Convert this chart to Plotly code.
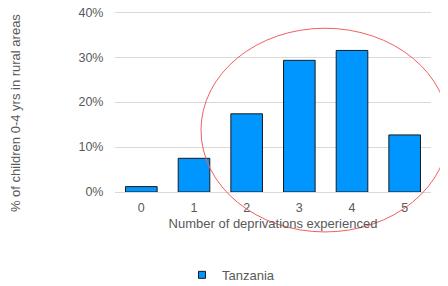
import plotly.graph_objects as go

categories = ["0", "1", "2", "3", "4", "5"]
values = [1.2, 7.5, 17.4, 29.3, 31.5, 12.7]
series_name = "Tanzania"
y_ticks = [0, 10, 20, 30, 40]
y_tick_labels = ["0%", "10%", "20%", "30%", "40%"]
y_range = [0, 40.5]

# page body has an 8px margin; work in window pixels and convert
OFF = 8
W, H = 448 - OFF, 286 - OFF
L, R, B = 115 - OFF, 17, 94
T = 12 - OFF - 0.5 * 4.5
pw = W - L - R
ph = H - T - B

def px_x(p):
    return (p - OFF - L) / pw

def px_y(p):
    return (H - B - (p - OFF)) / ph

fig = go.Figure()
fig.add_trace(go.Bar(
    x=categories, y=values, name=series_name,
    marker=dict(color="#0096FF", line=dict(color="#1a1a1a", width=1)),
    showlegend=False,
))
fig.add_trace(go.Scatter(
    x=[None], y=[None], mode="markers", name=series_name,
    marker=dict(symbol="square", size=7, color="#0096FF", line=dict(color="#1a1a1a", width=1)),
    showlegend=True,
))

fig.update_layout(
    width=W, height=H,
    margin=dict(l=L, r=R, t=T, b=B, autoexpand=False),
    paper_bgcolor="white", plot_bgcolor="white",
    font=dict(family="Liberation Sans, Arial, sans-serif", size=13, color="#595959"),
    bargap=0.4,
    showlegend=True,
    legend=dict(orientation="h", x=px_x(182), xanchor="left", y=px_y(275), yanchor="middle",
                font=dict(size=13, color="#595959"), itemwidth=30,
                bgcolor="rgba(0,0,0,0)"),
    xaxis=dict(
        type="category", showgrid=False, zeroline=False, showline=False,
        ticks="outside", ticklen=4, tickcolor="rgba(0,0,0,0)",
        tickfont=dict(size=12.5, color="#595959"),
        title=dict(text="Number of deprivations experienced", font=dict(size=13, color="#595959"), standoff=4),
        automargin=False,
    ),
    yaxis=dict(
        range=y_range, tickvals=y_ticks, ticktext=y_tick_labels,
        showgrid=True, gridcolor="#d9d9d9", gridwidth=1,
        zeroline=True, zerolinecolor="#d9d9d9", zerolinewidth=1,
        showline=False, ticks="outside", ticklen=8, tickcolor="rgba(0,0,0,0)",
        tickfont=dict(size=12.5, color="#595959"), automargin=False,
        ticklabeloverflow="allow",
    ),
    annotations=[dict(
        text="% of children 0-4 yrs in rural areas", textangle=-90,
        xref="paper", yref="paper", x=px_x(15), y=px_y(113),
        xanchor="center", yanchor="middle", showarrow=False,
        font=dict(size=13, color="#595959"),
    )],
    shapes=[dict(
        type="circle", xref="paper", yref="paper",
        x0=px_x(201), x1=px_x(449), y0=px_y(28), y1=px_y(232),
        line=dict(color="#F06060", width=1), fillcolor="rgba(0,0,0,0)",
    )],
)

fig.write_html("out.html")
